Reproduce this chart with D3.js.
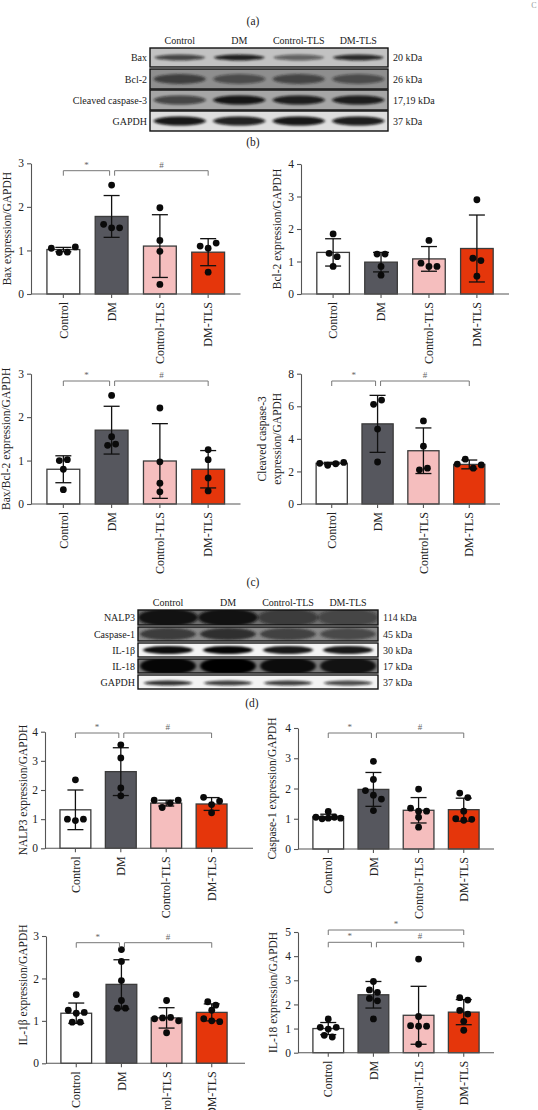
<!DOCTYPE html>
<html><head><meta charset="utf-8">
<script src="https://cdn.jsdelivr.net/npm/d3@7"></script>
<style>body{margin:0;background:#fff;} svg{display:block;} text{font-family:"Liberation Serif","DejaVu Serif",serif;}</style>
</head><body><svg id="c" width="538" height="1110"></svg>
<script>
// ---------------- DATA ----------------
const groups = ["Control","DM","Control-TLS","DM-TLS"];

// (a) western blot
const blotARows = ["Bax","Bcl-2","Cleaved caspase-3","GAPDH"];
const blotAKda = ["20 kDa","26 kDa","17,19 kDa","37 kDa"];
const blotABands = [[0.70,0.90,0.55,0.85],[0.70,0.55,0.65,0.55],[0.65,0.95,0.90,0.90],[0.95,0.90,0.95,0.92]];

// (b) Bax, Bcl-2
const baxMean = [1.02,1.78,1.10,0.96];
const baxSD = [0.05,0.48,0.72,0.31];
const baxPts = [[1.05,0.95,0.96,1.08],[2.50,1.60,1.52,1.52],[1.98,1.23,0.98,0.22],[1.10,1.05,1.17,0.50]];
const baxSig = [[0,1,"*"],[1,3,"#"]];

const bcl2Mean = [1.28,0.98,1.08,1.40];
const bcl2SD = [0.42,0.30,0.38,1.03];
const bcl2Pts = [[1.85,1.25,1.15,0.85],[1.23,1.23,0.85,0.58],[1.65,0.95,0.85,0.85],[2.90,1.10,1.03,0.55]];
const bcl2Sig = [];

// (b) Bax/Bcl-2, Cleaved caspase-3
const ratioMean = [0.80,1.70,0.99,0.80];
const ratioSD = [0.31,0.55,0.86,0.43];
const ratioPts = [[1.00,1.02,0.80,0.33],[2.50,1.55,1.35,1.38],[2.21,0.97,0.48,0.28],[1.25,1.02,0.60,0.30]];
const ratioSig = [[0,1,"*"],[1,3,"#"]];

const casp3Mean = [2.50,4.92,3.27,2.43];
const casp3SD = [0.06,1.75,1.40,0.27];
const casp3Pts = [[2.50,2.38,2.47,2.55],[6.12,6.38,4.60,2.58],[5.10,3.55,2.10,2.20],[2.45,2.75,2.20,2.40]];
const casp3Sig = [[0,1,"*"],[1,3,"#"]];

// (c) western blot
const blotDRows = ["NALP3","Caspase-1","IL-1\u03b2","IL-18","GAPDH"];
const blotDKda = ["114 kDa","45 kDa","30 kDa","17 kDa","37 kDa"];
const blotDBands = [[0.95,0.95,0.55,0.45],[0.75,0.85,0.70,0.60],[0.95,0.98,0.90,0.90],[0.95,1.00,0.90,0.85],[0.85,0.80,0.80,0.75]];

// (d) NALP3, Caspase-1, IL-1b, IL-18
const nalp3Mean = [1.32,2.63,1.55,1.52];
const nalp3SD = [0.68,0.82,0.10,0.22];
const nalp3Pts = [[2.35,1.00,0.95,1.00],[3.55,3.10,2.07,1.80],[1.65,1.40,1.55,1.65],[1.75,1.50,1.62,1.22]];
const nalp3Sig = [[0,1,"*"],[1,3,"#"]];

const casp1Mean = [1.07,1.97,1.28,1.30];
const casp1SD = [0.08,0.56,0.42,0.38];
const casp1Pts = [[1.05,1.00,1.02,1.05,1.24,1.02],[2.90,2.30,1.93,1.78,1.65,1.27],[1.98,1.35,1.25,1.25,1.05,0.72],[1.85,1.70,1.25,1.00,0.95,0.98]];
const casp1Sig = [[0,1,"*"],[1,3,"#"]];

const il1bMean = [1.18,1.86,1.07,1.20];
const il1bSD = [0.24,0.58,0.24,0.20];
const il1bPts = [[1.62,1.25,1.18,1.20,0.97,0.97],[2.68,2.40,1.95,1.48,1.30,1.30],[1.48,1.05,1.07,1.08,1.00,0.72],[1.45,1.37,1.25,1.05,1.00,0.98]];
const il1bSig = [[0,1,"*"],[1,3,"#"]];

const il18Mean = [1.00,2.40,1.55,1.68];
const il18SD = [0.25,0.55,1.20,0.52];
const il18Pts = [[1.40,1.05,0.98,1.05,0.72,0.65],[2.95,2.60,2.50,2.25,2.15,1.40],[3.88,1.50,1.12,1.10,1.10,0.35],[2.28,2.18,1.75,1.60,1.30,0.93]];
const il18Sig = [[0,3,"*"],[0,1,"*"],[1,3,"#"]];

// ---------------- DRAWING ----------------
const svg = d3.select("#c");
const colors = ["#ffffff","#56575e","#f5bebe","#e5360b"];
const FONT = "Liberation Serif, DejaVu Serif, serif";

const defs = svg.append("defs");
defs.append("filter").attr("id","blur").attr("x","-50%").attr("y","-100%").attr("width","200%").attr("height","300%")
  .append("feGaussianBlur").attr("stdDeviation","1.6 1.2");

function label(x,y,t,opts={}) {
  return svg.append("text").attr("x",x).attr("y",y).text(t)
    .attr("font-family",FONT).attr("font-size",opts.size||11)
    .attr("text-anchor",opts.anchor||"middle").attr("fill",opts.fill||"#222");
}

// panel letters
label(253,25,"(a)",{size:11.5});
label(253,146,"(b)",{size:11.5});
label(253,586,"(c)",{size:11.5});
label(252,707,"(d)",{size:11.5});
label(534,8,"C",{size:8,fill:"#999"});

function drawBlot(cfg) {
  const lane = d3.scaleBand().domain(groups).range([cfg.x0,cfg.x1]);
  const g = svg.append("g");
  groups.forEach(gn => label(lane(gn)+lane.bandwidth()/2, cfg.headY, gn, {size:10}));
  cfg.rows.forEach((rn,ri) => {
    const [t,b] = cfg.rowY[ri];
    const st = cfg.style[ri];
    const cid = cfg.id+"clip"+ri;
    defs.append("clipPath").attr("id",cid).append("rect").attr("x",cfg.x0).attr("y",t).attr("width",cfg.x1-cfg.x0).attr("height",b-t);
    const rg = g.append("g").attr("clip-path",`url(#${cid})`);
    rg.append("rect").attr("x",cfg.x0).attr("y",t).attr("width",cfg.x1-cfg.x0).attr("height",b-t).attr("fill",st.bg);
    rg.selectAll("ellipse").data(cfg.bands[ri]).join("ellipse")
      .attr("cx",(d,i)=>lane(groups[i])+lane.bandwidth()/2)
      .attr("cy",(t+b)/2 + (st.dy||0))
      .attr("rx",st.rx).attr("ry",st.ry)
      .attr("fill",st.band).attr("fill-opacity",d=>d)
      .attr("filter","url(#blur)");
    g.append("rect").attr("x",cfg.x0).attr("y",t).attr("width",cfg.x1-cfg.x0).attr("height",b-t)
      .attr("fill","none").attr("stroke","#111").attr("stroke-width",1.4);
    label(cfg.x0-3,(t+b)/2+3.5,rn,{size:10,anchor:"end"});
    label(cfg.x1+5,(t+b)/2+3.5,cfg.kda[ri],{size:10,anchor:"start"});
  });
}

drawBlot({id:"a",x0:150,x1:388,headY:44,rows:blotARows,kda:blotAKda,bands:blotABands,
  rowY:[[48,67],[69,89],[90,110],[111,131]],
  style:[{bg:"#c2c2c2",band:"#111",rx:25,ry:3},{bg:"#8e8e8e",band:"#1a1a1a",rx:26,ry:5},
         {bg:"#a6a6a6",band:"#0d0d0d",rx:26,ry:4.5},{bg:"#dedede",band:"#0a0a0a",rx:26,ry:4.5}]});

drawBlot({id:"d",x0:138,x1:378,headY:606,rows:blotDRows,kda:blotDKda,bands:blotDBands,
  rowY:[[610,625],[627,641],[643,657],[659,673],[675,689]],
  style:[{bg:"#6d6d6d",band:"#111",rx:30,ry:9},{bg:"#8a8a8a",band:"#222",rx:28,ry:6},
         {bg:"#f3f3f3",band:"#050505",rx:25,ry:4},{bg:"#7a7a7a",band:"#050505",rx:28,ry:9},
         {bg:"#f3f3f3",band:"#111",rx:24,ry:2.5,dy:1}]});

function beeswarm(vals, y, bw) {
  const thr = 5.0;
  const idx = vals.map((v,i)=>i).sort((a,b)=>vals[b]-vals[a]);
  const clusters = []; let cur = [idx[0]];
  for (let k=1;k<idx.length;k++) {
    const p = idx[k-1], q = idx[k];
    if (Math.abs(y(vals[p])-y(vals[q])) < thr) cur.push(q); else { clusters.push(cur); cur=[q]; }
  }
  clusters.push(cur);
  const off = new Array(vals.length).fill(0);
  clusters.forEach(c => {
    c.sort((a,b)=>a-b);
    const n = c.length; if (n<2) return;
    const d = Math.min(8,(bw-6)/(n-1));
    c.forEach((j,m)=> off[j] = (m-(n-1)/2)*d);
  });
  return off;
}

function drawChart(cfg) {
  const g = svg.append("g");
  const x = d3.scaleBand().domain(groups).range([cfg.x0,cfg.x1]).paddingInner(0.32).paddingOuter(0.33);
  const y = d3.scaleLinear().domain([0,cfg.yMax]).range([cfg.yB,cfg.yT]);
  const cx = i => x(groups[i]) + x.bandwidth()/2;

  // bars
  g.selectAll("rect.bar").data(cfg.mean).join("rect").attr("class","bar")
    .attr("x",(d,i)=>x(groups[i])).attr("y",d=>y(d))
    .attr("width",x.bandwidth()).attr("height",d=>cfg.yB-y(d))
    .attr("fill",(d,i)=>colors[i]).attr("stroke","#3b3b3b").attr("stroke-width",1.3);

  // axes
  const ya = g.append("g").attr("transform",`translate(${cfg.x0},0)`)
    .call(d3.axisLeft(y).tickValues(d3.range(0,cfg.yMax+0.001,cfg.step||1)).tickSize(4).tickSizeOuter(0).tickFormat(d3.format("d")));
  const xa = g.append("g").attr("transform",`translate(0,${cfg.yB})`)
    .call(d3.axisBottom(x).tickSize(4).tickSizeOuter(0));
  xa.select(".domain").attr("d",`M${cfg.x0},0H${cfg.xe||cfg.x1}`);
  [ya,xa].forEach(a => {
    a.attr("font-family",FONT).attr("font-size",11.5);
    a.select(".domain").attr("stroke","#555").attr("stroke-width",1.1);
    a.selectAll(".tick line").attr("stroke","#555").attr("stroke-width",1.1);
    a.selectAll(".tick text").attr("fill","#222");
  });
  ya.selectAll(".tick text").attr("x",-7);
  xa.selectAll(".tick text").attr("transform","rotate(-90)").attr("text-anchor","end")
    .attr("x",-8).attr("y",0).attr("dy","0.35em").attr("font-size",12);

  // y label
  const ly = cfg.labelY || (cfg.yB+cfg.yT)/2;
  cfg.label.forEach((t,k) => {
    svg.append("text").attr("transform",`translate(${cfg.labelX[k]},${ly}) rotate(-90)`)
      .attr("text-anchor","middle").attr("font-family",FONT).attr("font-size",11.5).attr("fill","#222").text(t);
  });

  // error bars
  cfg.mean.forEach((m,i) => {
    const s = cfg.sd[i], c = cx(i);
    g.append("line").attr("x1",c).attr("x2",c).attr("y1",y(m-s)).attr("y2",y(m+s)).attr("stroke","#111").attr("stroke-width",1.3);
    [m-s,m+s].forEach(v => g.append("line").attr("x1",c-8).attr("x2",c+8).attr("y1",y(v)).attr("y2",y(v)).attr("stroke","#111").attr("stroke-width",1.3));
  });

  // points
  cfg.pts.forEach((vals,i) => {
    const off = beeswarm(vals,y,x.bandwidth());
    g.selectAll(null).data(vals).join("circle")
      .attr("cx",(d,k)=>cx(i)+off[k]).attr("cy",d=>y(d)).attr("r",3.4).attr("fill","#0a0a0a");
  });

  // significance brackets
  cfg.sig.forEach((s,k) => {
    const [a,b,t] = s;
    const by = cfg.sigY[k];
    const xa1 = cx(a) + (a===1?3:0);
    const xb1 = cx(b) - (b===1?2:0);
    g.append("path").attr("d",`M${xa1},${by+5}V${by}H${xb1}V${by+5}`)
      .attr("fill","none").attr("stroke","#777").attr("stroke-width",1);
    svg.append("text").attr("x",(xa1+xb1)/2).attr("y",by-3).attr("text-anchor","middle")
      .attr("font-family",FONT).attr("font-size",9).attr("fill","#666").text(t);
  });
}

drawChart({mean:baxMean,sd:baxSD,pts:baxPts,sig:baxSig,sigY:[170.7,170.7],
  x0:31,x1:240.5,yB:294,yT:163.3,yMax:3,label:["Bax expression/GAPDH"],labelX:[11]});
drawChart({mean:bcl2Mean,sd:bcl2SD,pts:bcl2Pts,sig:bcl2Sig,sigY:[],
  x0:301,x1:509,yB:294,yT:164,yMax:4,label:["Bcl-2 expression/GAPDH"],labelX:[281]});
drawChart({mean:ratioMean,sd:ratioSD,pts:ratioPts,sig:ratioSig,sigY:[381,381],
  x0:31,x1:240.5,yB:504,yT:373.7,yMax:3,label:["Bax/Bcl-2 expression/GAPDH"],labelX:[10]});
drawChart({mean:casp3Mean,sd:casp3SD,pts:casp3Pts,sig:casp3Sig,sigY:[381,381],
  x0:301,x1:500,yB:504,yT:373.7,yMax:8,step:2,label:["Cleaved caspase-3","expression/GAPDH"],labelX:[266,281]});
drawChart({mean:nalp3Mean,sd:nalp3SD,pts:nalp3Pts,sig:nalp3Sig,sigY:[733,733],
  x0:45,x1:242,xe:253,yB:848.3,yT:731.7,yMax:4,label:["NALP3 expression/GAPDH"],labelX:[27]});
drawChart({mean:casp1Mean,sd:casp1SD,pts:casp1Pts,sig:casp1Sig,sigY:[733,733],
  x0:298,x1:494,yB:849,yT:728,yMax:4,label:["Caspase-1 expression/GAPDH"],labelX:[276]});
drawChart({mean:il1bMean,sd:il1bSD,pts:il1bPts,sig:il1bSig,sigY:[942.7,942.7],
  x0:46,x1:242,xe:245,yB:1063.3,yT:936,yMax:3,label:["IL-1\u03b2 expression/GAPDH"],labelX:[27],labelY:985});
drawChart({mean:il18Mean,sd:il18SD,pts:il18Pts,sig:il18Sig,sigY:[930,942.3,942.3],
  x0:298,x1:494,yB:1052.7,yT:932,yMax:5,label:["IL-18 expression/GAPDH"],labelX:[277]});
</script>
</body></html>
